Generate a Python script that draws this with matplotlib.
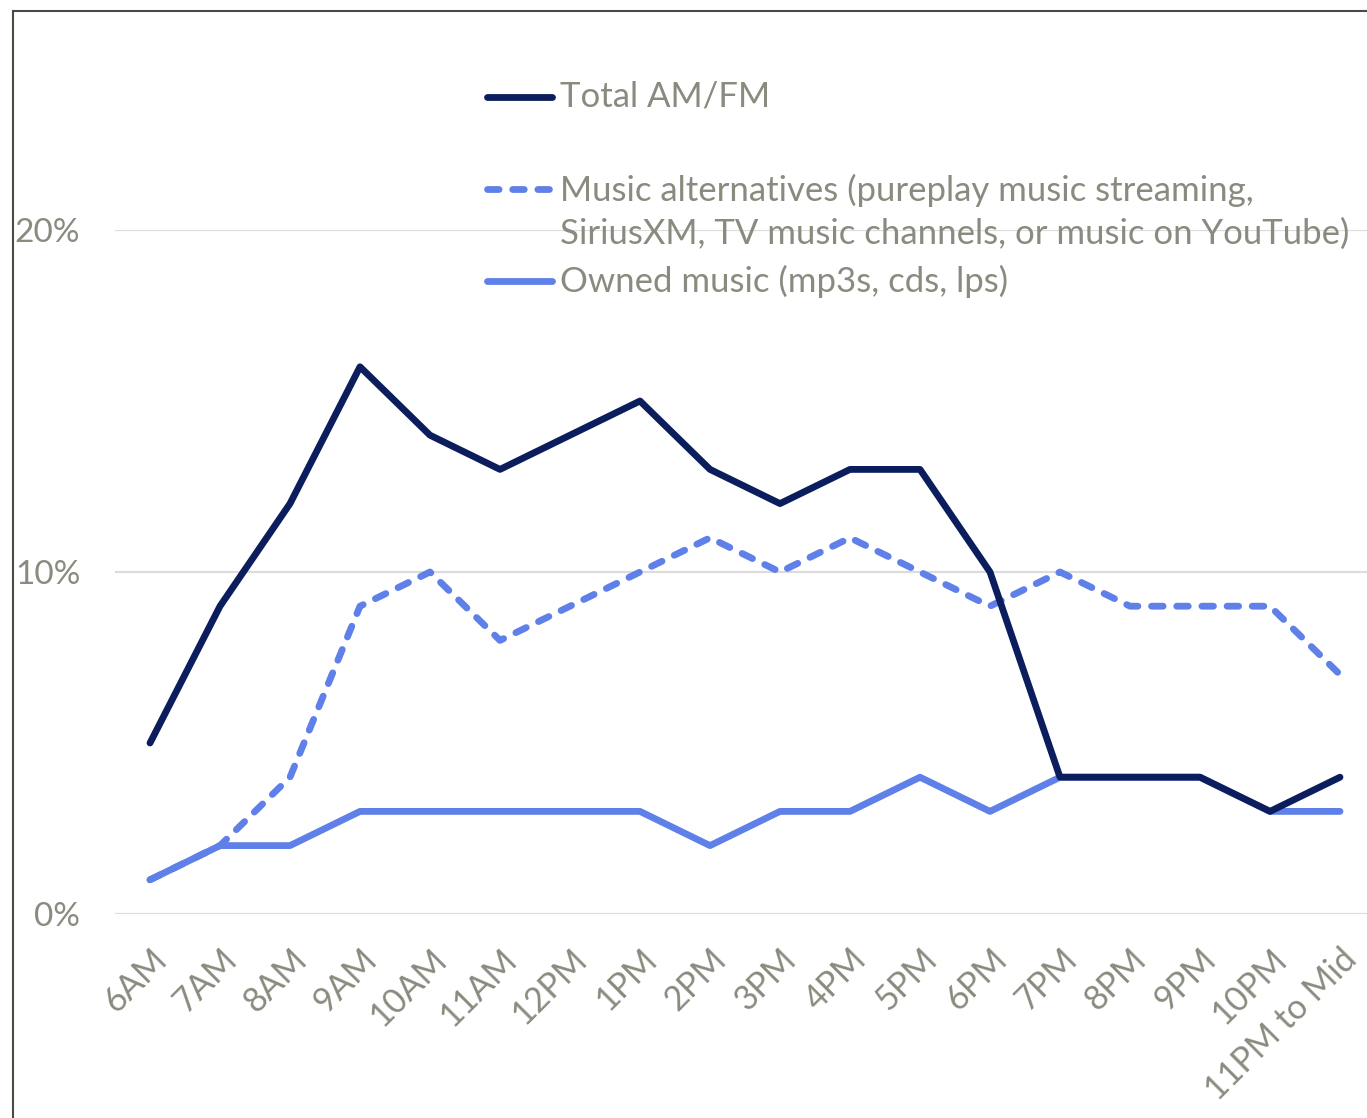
import matplotlib.pyplot as plt
from matplotlib.lines import Line2D
from matplotlib.ticker import PercentFormatter

hours = ["6AM", "7AM", "8AM", "9AM", "10AM", "11AM", "12PM", "1PM", "2PM", "3PM",
         "4PM", "5PM", "6PM", "7PM", "8PM", "9PM", "10PM", "11PM to Mid"]
total_amfm = [5, 9, 12, 16, 14, 13, 14, 15, 13, 12, 13, 13, 10, 4, 4, 4, 3, 4]
music_alt = [1, 2, 4, 9, 10, 8, 9, 10, 11, 10, 11, 10, 9, 10, 9, 9, 9, 7]
owned_music = [1, 2, 2, 3, 3, 3, 3, 3, 2, 3, 3, 4, 3, 4, 4, 4, 3, 3]

series_names = ["Total AM/FM",
                "Music alternatives (pureplay music streaming,\nSiriusXM, TV music channels, or music on YouTube)",
                "Owned music (mp3s, cds, lps)"]

navy = "#0b1d5c"
blue = "#5f80e8"
grey = "#878c7f"
font = "Lato"
lw = 4.9

W, H = 1367, 1118
fig = plt.figure(figsize=(W / 100, H / 100), dpi=100)

# plot area in pixel terms, converted to figure fractions
ax = fig.add_axes([115 / W, 1 - 914 / H, 1260 / W, 684 / H])
x = list(range(len(hours)))

ax.plot(x, owned_music, color=blue, lw=lw, solid_capstyle="round",
        solid_joinstyle="round", zorder=3)
ax.plot(x, music_alt, color=blue, lw=lw, dashes=(1.7, 2.0),
        dash_capstyle="round", dash_joinstyle="round", zorder=4)
ax.plot(x, total_amfm, color=navy, lw=lw, solid_capstyle="round",
        solid_joinstyle="round", zorder=5)

ax.set_xlim(-0.5, len(hours) - 0.5)
ax.set_ylim(0, 20)
ax.set_yticks([0, 10, 20])
ax.yaxis.set_major_formatter(PercentFormatter(decimals=0))
ax.grid(axis="y", color="#dcdcdc", lw=1.6, zorder=0)
for s in ax.spines.values():
    s.set_visible(False)
ax.tick_params(axis="both", length=0, labelcolor=grey)
ax.tick_params(axis="y", pad=25, labelsize=24)
ax.set_xticks(x)
ax.set_xticklabels(hours, rotation=45, ha="right", va="top",
                   rotation_mode="anchor", fontsize=24.5)
ax.tick_params(axis="x", pad=21)
for lbl in ax.get_xticklabels() + ax.get_yticklabels():
    lbl.set_fontfamily(font)
for ln in ax.lines:
    ln.set_clip_on(False)

# hand-placed legend
legend_rows = [(97, navy, None, 97), (189, blue, (1.7, 2.0), 212), (281, blue, None, 281)]
for (y_handle, col, dash, y_text), name in zip(legend_rows, series_names):
    kw = dict(dashes=dash, dash_capstyle="round") if dash else dict(solid_capstyle="round")
    fig.add_artist(Line2D([487 / W, 552 / W], [1 - y_handle / H] * 2,
                          color=col, lw=lw, **kw))
    fig.text(560 / W, 1 - y_text / H, name, color=grey, fontsize=25,
             family=font, va="center", ha="left", linespacing=1.38)

# chart frame, only left and top edges show
fig.add_artist(Line2D([13 / W, 13 / W], [0, 1 - 11 / H], color="#4a4a44", lw=1.5))
fig.add_artist(Line2D([13 / W, 1], [1 - 11 / H] * 2, color="#4a4a44", lw=1.5))

fig.savefig("out.png", dpi=100)
